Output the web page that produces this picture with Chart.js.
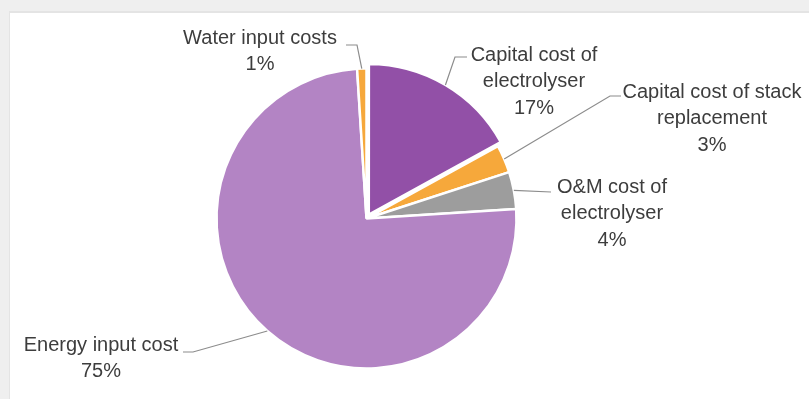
<!DOCTYPE html>
<html>
<head>
<meta charset="utf-8">
<script src="https://cdn.jsdelivr.net/npm/chart.js@4/dist/chart.umd.min.js"></script>
<style>
  html, body { margin: 0; padding: 0; background: #ffffff; }
  #wrap { width: 809px; height: 399px; }
</style>
</head>
<body>
<div id="wrap"><canvas id="pie" width="809" height="399"></canvas></div>
<script>
// Cost breakdown of electrolytic hydrogen (share of total, %)
const categories = [
  'Capital cost of electrolyser',
  'Capital cost of stack replacement',
  'O&M cost of electrolyser',
  'Energy input cost',
  'Water input costs'
];
const shares = [17, 3, 4, 75, 1];

// Wrapped label text for each slice (the percentage line is added from shares)
const labelLines = [
  ['Capital cost of', 'electrolyser'],
  ['Capital cost of stack', 'replacement'],
  ['O&M cost of', 'electrolyser'],
  ['Energy input cost'],
  ['Water input costs']
];

const sliceColors = ['#9250a7', '#f6a83b', '#9d9d9d', '#b384c4', '#f6a83b'];

// Label placement: text centre x, first-line centre y, and leader-line path after the slice edge
const labelLayout = [
  { x: 534, y: 55,  path: [[455, 57], [467, 57]] },
  { x: 712, y: 92,  path: [[610, 96], [621, 96]] },
  { x: 612, y: 187, path: [[551, 192]] },
  { x: 101, y: 345, path: [[193, 352], [183, 352]] },
  { x: 260, y: 38,  path: [[357, 45], [346, 45]] }
];

const frame = {
  id: 'frame',
  beforeDraw(chart) {
    const ctx = chart.ctx;
    ctx.save();
    ctx.fillStyle = '#efefef';
    ctx.fillRect(0, 0, chart.width, chart.height);
    ctx.fillStyle = '#e4e4e4';
    ctx.fillRect(9, 11, chart.width - 9, 2);
    ctx.fillRect(9, 11, 1, chart.height - 11);
    ctx.fillStyle = '#ffffff';
    ctx.fillRect(10, 13, chart.width - 10, chart.height - 13);
    ctx.restore();
  }
};

const sliceLabels = {
  id: 'sliceLabels',
  afterDatasetsDraw(chart) {
    const ctx = chart.ctx;
    const meta = chart.getDatasetMeta(0);
    ctx.save();
    meta.data.forEach((arc, i) => {
      const p = arc.getProps(['x', 'y', 'startAngle', 'endAngle', 'outerRadius', 'circumference']);
      const mid = (p.startAngle + p.endAngle) / 2;
      // same displacement the arc element applies for its offset option
      const off = (arc.options.offset || 0) / 4;
      const fix = 1 - Math.sin(Math.min(Math.PI, p.circumference || 0));
      const shift = off + off * fix;
      const cx = p.x + Math.cos(mid) * shift;
      const cy = p.y + Math.sin(mid) * shift;
      const ex = cx + Math.cos(mid) * p.outerRadius;
      const ey = cy + Math.sin(mid) * p.outerRadius;
      const lay = labelLayout[i];

      ctx.strokeStyle = '#8c8c8c';
      ctx.lineWidth = 1.2;
      ctx.beginPath();
      ctx.moveTo(ex, ey);
      lay.path.forEach(pt => ctx.lineTo(pt[0], pt[1]));
      ctx.stroke();

      const lines = labelLines[i].concat([shares[i] + '%']);
      ctx.fillStyle = '#3d3d3d';
      ctx.font = '20px "Liberation Sans", Arial, sans-serif';
      ctx.textAlign = 'center';
      ctx.textBaseline = 'middle';
      lines.forEach((t, k) => ctx.fillText(t, lay.x, lay.y + k * 26.5));
    });
    ctx.restore();
  }
};

new Chart(document.getElementById('pie'), {
  type: 'pie',
  data: {
    labels: categories,
    datasets: [{
      data: shares,
      backgroundColor: sliceColors,
      borderColor: '#ffffff',
      borderWidth: 2.5,
      offset: [18, 0, 0, 0, 0],
      radius: 150
    }]
  },
  options: {
    responsive: false,
    animation: false,
    events: [],
    layout: { padding: { left: 0, right: 76, top: 38, bottom: 0 } },
    plugins: {
      legend: { display: false },
      tooltip: { enabled: false }
    }
  },
  plugins: [frame, sliceLabels]
});
</script>
</body>
</html>
